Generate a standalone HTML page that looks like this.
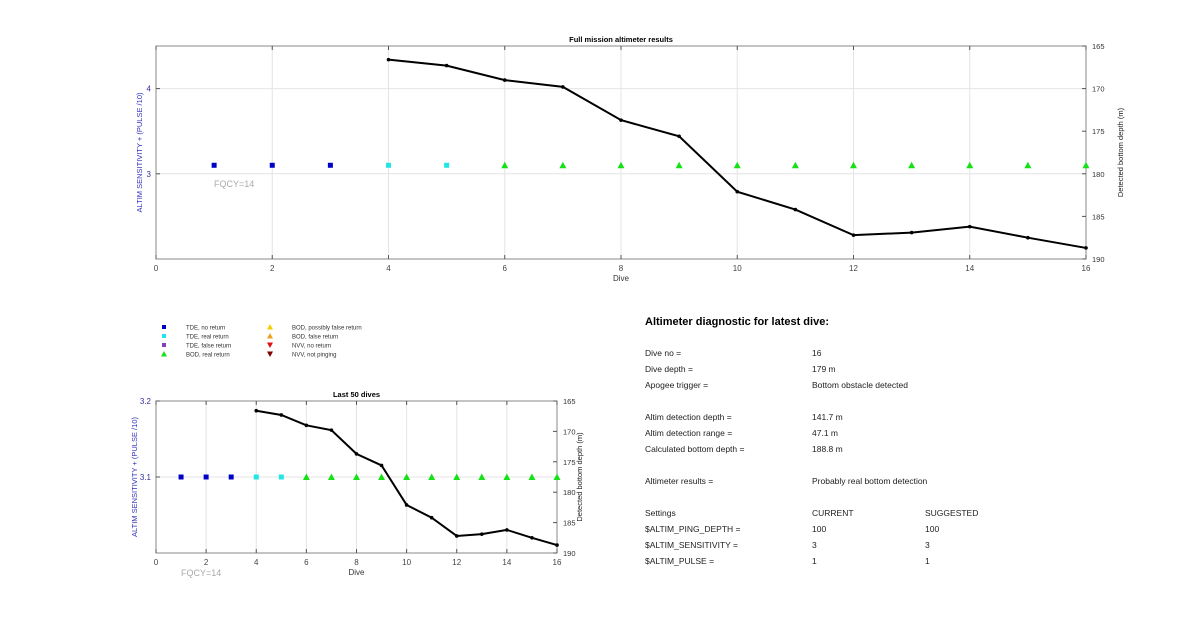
<!DOCTYPE html>
<html><head><meta charset="utf-8"><style>
body{margin:0;background:#fff;width:1200px;height:622px;overflow:hidden;font-family:"Liberation Sans",sans-serif;}
svg{position:absolute;left:0;top:0}
</style></head><body>
<svg id="s" width="1200" height="622" viewBox="0 0 1200 622"></svg>
<script>
const dives=[1,2,3,4,5,6,7,8,9,10,11,12,13,14,15,16];
const markerVals=[3.1,3.1,3.1,3.1,3.1,3.1,3.1,3.1,3.1,3.1,3.1,3.1,3.1,3.1,3.1,3.1];
const markerTypes=['tde-no','tde-no','tde-no','tde-real','tde-real','bod','bod','bod','bod','bod','bod','bod','bod','bod','bod','bod'];
const depthDives=[4,5,6,7,8,9,10,11,12,13,14,15,16];
const depths=[166.6,167.3,169.0,169.8,173.7,175.6,182.1,184.2,187.2,186.9,186.2,187.5,188.7];
const xTicks=[0,2,4,6,8,10,12,14,16];
const depthTicks=[165,170,175,180,185,190];
const NS='http://www.w3.org/2000/svg';
const svg=document.getElementById('s');
function el(t,a,p){const e=document.createElementNS(NS,t);for(const k in a)e.setAttribute(k,a[k]);(p||svg).appendChild(e);return e;}
function txt(s,a,p){const e=el('text',a,p);e.textContent=s;return e;}
const colors={'tde-no':'#0000c8','tde-real':'#22e6e6','bod':'#16e016'};
function chart(o){
  const g=el('g',{});
  
  
  const X=v=>o.x0+(v-0)/16*(o.x1-o.x0);
  const YL=v=>o.y1-(v-o.lmin)/(o.lmax-o.lmin)*(o.y1-o.y0);
  const YR=v=>o.y0+(v-165)/(190-165)*(o.y1-o.y0);
  xTicks.forEach(t=>{if(t>0&&t<16){const l=el('line',{x1:X(t),x2:X(t),y1:o.y0,y2:o.y1,stroke:'#e4e4e4','stroke-width':1},g);}});
  o.lticks.forEach(t=>{const l=el('line',{x1:o.x0,x2:o.x1,y1:YL(t),y2:YL(t),stroke:'#e4e4e4','stroke-width':1},g);});
  const fr=el('rect',{x:o.x0,y:o.y0,width:o.x1-o.x0,height:o.y1-o.y0,fill:'none',stroke:'#8a8a8a','stroke-width':1},g);
  
  xTicks.forEach(t=>{el('line',{x1:X(t),x2:X(t),y1:o.y1,y2:o.y1-4,stroke:'#555'},g);el('line',{x1:X(t),x2:X(t),y1:o.y0,y2:o.y0+4,stroke:'#555'},g);
    const tl=txt(String(t),{x:X(t),y:o.y1+12,'font-size':8,'text-anchor':'middle',fill:'#444'},g);});
  o.lticks.forEach((t,i)=>{el('line',{x1:o.x0,x2:o.x0+4,y1:YL(t),y2:YL(t),stroke:'#555'},g);
    const tl=txt(o.llabels[i],{x:o.x0-5,y:YL(t)+3,'font-size':8,'text-anchor':'end',fill:'#3030a0'},g);});
  depthTicks.forEach(t=>{el('line',{x1:o.x1,x2:o.x1-4,y1:YR(t),y2:YR(t),stroke:'#555'},g);
    const tl=txt(String(t),{x:o.x1+6,y:YR(t)+3,'font-size':7.5,fill:'#333'},g);});
  const ti=txt(o.title,{x:(o.x0+o.x1)/2,y:o.y0-4,'font-size':7.5,'font-weight':'bold','text-anchor':'middle'},g);
  const xl=txt('Dive',{x:(o.x0+o.x1)/2,y:o.y1+22,'font-size':8,'text-anchor':'middle',fill:'#333'},g);
  const cy=(o.y0+o.y1)/2;
  const yl=txt('ALTIM SENSITIVITY + (PULSE /10)',{x:o.x0-o.ylOff,y:cy,'font-size':7.5,'text-anchor':'middle',fill:'#3030c0',transform:`rotate(-90 ${o.x0-o.ylOff} ${cy})`},g);
  const yr=txt('Detected bottom depth (m)',{x:o.x1+o.yrOff,y:cy,'font-size':7.5,'text-anchor':'middle',fill:'#222',transform:`rotate(-90 ${o.x1+o.yrOff} ${cy})`},g);
  const fq=txt('FQCY=14',{x:o.fqx,y:o.fqy,'font-size':9,fill:'#aaa'},g);
  dives.forEach((d,i)=>{const x=X(d),y=YL(markerVals[i]);let m;
    if(markerTypes[i]==='bod')m=el('polygon',{points:`${x-3.5},${y+3} ${x+3.5},${y+3} ${x},${y-3.5}`,fill:colors.bod},g);
    else m=el('rect',{x:x-2.5,y:y-2.5,width:5,height:5,fill:colors[markerTypes[i]]},g);
    });
  const pts=depthDives.map((d,i)=>X(d)+','+YR(depths[i])).join(' ');
  const pl=el('polyline',{points:pts,fill:'none',stroke:'#000','stroke-width':2},g);
  
  depthDives.forEach((d,i)=>{const c=el('circle',{cx:X(d),cy:YR(depths[i]),r:1.8,fill:'#000'},g);});
}
chart({name:'full-mission-chart',x0:156,x1:1086,y0:46,y1:259,lmin:2,lmax:4.5,lticks:[3,4],llabels:['3','4'],title:'Full mission altimeter results',ylOff:14,yrOff:37,fqx:214,fqy:187});
chart({name:'last-50-dives-chart',x0:156,x1:557,y0:401,y1:553,lmin:3.0,lmax:3.2,lticks:[3.1,3.2],llabels:['3.1','3.2'],title:'Last 50 dives',ylOff:19,yrOff:25,fqx:181,fqy:576});
const leg=[['sq','#0000c8','TDE, no return',164,327],['sq','#22e6e6','TDE, real return',164,336],['sq','#8040c0','TDE, false return',164,345],['up','#16e016','BOD, real return',164,354],
['up','#f0d000','BOD, possibly false return',270,327],['up','#f0a020','BOD, false return',270,336],['dn','#e01010','NVV, no return',270,345],['dn','#800000','NVV, not pinging',270,354]];
leg.forEach(l=>{const g=el('g',{});
  const [t,c,s,x,y]=l;
  if(t==='sq')el('rect',{x:x-2,y:y-2,width:4,height:4,fill:c},g);
  else if(t==='up')el('polygon',{points:`${x-3},${y+2.5} ${x+3},${y+2.5} ${x},${y-3}`,fill:c},g);
  else el('polygon',{points:`${x-3},${y-2.5} ${x+3},${y-2.5} ${x},${y+3}`,fill:c},g);
  txt(s,{x:x+22,y:y+2.5,'font-size':6,fill:'#333'},g);});
const h=txt('Altimeter diagnostic for latest dive:',{x:645,y:325,'font-size':11,'font-weight':'bold'});
const rows=[[356,'Dive no =','16',''],[372,'Dive depth =','179 m',''],[388,'Apogee trigger =','Bottom obstacle detected',''],
[420,'Altim detection depth =','141.7 m',''],[436,'Altim detection range =','47.1 m',''],[452,'Calculated bottom depth =','188.8 m',''],
[484,'Altimeter results =','Probably real bottom detection',''],[516,'Settings','CURRENT','SUGGESTED'],[532,'$ALTIM_PING_DEPTH =','100','100'],
[548,'$ALTIM_SENSITIVITY =','3','3'],[564,'$ALTIM_PULSE =','1','1']];
rows.forEach(r=>{const g=el('g',{});
  txt(r[1],{x:645,y:r[0],'font-size':8.5,fill:'#222'},g);txt(r[2],{x:812,y:r[0],'font-size':8.5,fill:'#222'},g);if(r[3])txt(r[3],{x:925,y:r[0],'font-size':8.5,fill:'#222'},g);});
</script>
</body></html>
